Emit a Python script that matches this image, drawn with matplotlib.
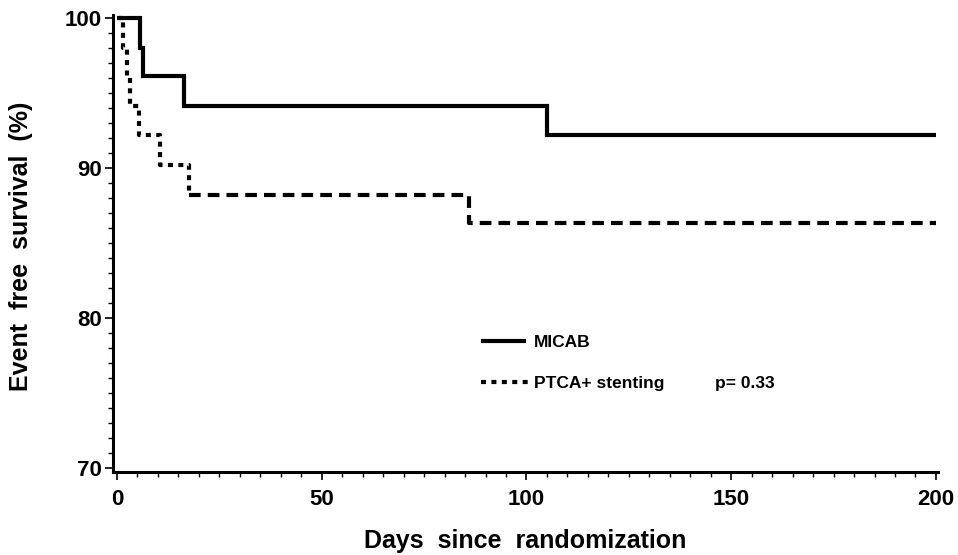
import matplotlib
matplotlib.use("Agg")
import matplotlib.pyplot as plt
import numpy as np

# ---- data ----
micab_days = [0, 5.6, 6.3, 16.3, 105.0, 200]
micab_surv = [100.0, 98.0, 96.1, 94.1, 92.2, 92.2]

ptca_days = [0, 1.5, 2.4, 3.2, 5.3, 10.4, 17.5, 86.0, 200]
ptca_surv = [100.0, 98.0, 96.1, 94.1, 92.2, 90.2, 88.2, 86.3, 86.3]

legend_labels = ["MICAB", "PTCA+ stenting"]
p_text = "p= 0.33"
x_label = "Days  since  randomization"
y_label = "Event  free  survival  (%)"
x_ticks = [0, 50, 100, 150, 200]
y_ticks = [70, 80, 90, 100]

FONT = ["Liberation Sans", "DejaVu Sans"]
plt.rcParams['font.family'] = FONT
plt.rcParams['font.weight'] = 'bold'


def step_path(days, surv):
    xs, ys = [days[0]], [surv[0]]
    for i in range(1, len(days)):
        xs.append(days[i]); ys.append(surv[i - 1])
        xs.append(days[i]); ys.append(surv[i])
    return np.array(xs), np.array(ys)


W, H = 958, 555
L, R, T, B = 113, 938, 15, 472
fig = plt.figure(figsize=(W / 100, H / 100), dpi=100)
ax = fig.add_axes([L / W, 1 - B / H, (R - L) / W, (B - T) / H])

mx, my = step_path(micab_days, micab_surv)
ax.plot(mx, my, color="black", lw=3.0, solid_capstyle="butt", solid_joinstyle="miter")

px, py = step_path(ptca_days, ptca_surv)
split = 17.5
k = np.where(px == split)[0][-1]
ax.plot(px[:k + 1], py[:k + 1], color="black", lw=3.0, linestyle=(0, (1.2, 1.3)),
        dash_capstyle="butt")
ax.plot(px[k:], py[k:], color="black", lw=3.0, linestyle=(0, (2.8, 1.7)),
        dash_capstyle="butt")

ax.set_xlim(-0.98, 200.5)
ax.set_ylim(69.73, 100.2)
ax.set_xticks(x_ticks)
ax.set_yticks(y_ticks)
ax.set_xticks(np.arange(0, 201, 5), minor=True)
ax.set_yticks(np.arange(70, 101, 1), minor=True)
ax.tick_params(axis="both", which="major", direction="out", length=5.5, width=1.2,
               labelsize=16)
ax.tick_params(axis="x", which="major", pad=7)
ax.tick_params(axis="y", which="major", pad=2.5)
ax.tick_params(axis="both", which="minor", direction="out", length=3.5, width=1.0)
for lab in ax.get_xticklabels() + ax.get_yticklabels():
    lab.set_fontweight("bold")

for s in ["top", "right"]:
    ax.spines[s].set_visible(False)
for s in ["left", "bottom"]:
    ax.spines[s].set_linewidth(2.2)

fig.text(525 / W, 1 - 541 / H, x_label, ha="center", va="center",
         fontsize=18, fontweight="bold")
fig.text(21 / W, 1 - 246 / H, y_label, ha="center", va="center",
         rotation=90, fontsize=18, fontweight="bold")

# legend drawn in axes coordinates
tr = ax.transAxes
ax.plot([0.446, 0.501], [0.286, 0.286], transform=tr, color="black", lw=3.0,
        solid_capstyle="butt")
ax.plot([0.446, 0.503], [0.196, 0.196], transform=tr, color="black", lw=3.0,
        linestyle=(0, (1.2, 1.3)), dash_capstyle="butt")
ax.text(0.510, 0.283, legend_labels[0], transform=tr, ha="left", va="center",
        fontsize=12.5, fontweight="bold")
ax.text(0.510, 0.193, legend_labels[1], transform=tr, ha="left", va="center",
        fontsize=12.5, fontweight="bold")
ax.text(0.730, 0.193, p_text, transform=tr, ha="left", va="center",
        fontsize=12.5, fontweight="bold")

fig.savefig("out.png", dpi=100, facecolor="white")
